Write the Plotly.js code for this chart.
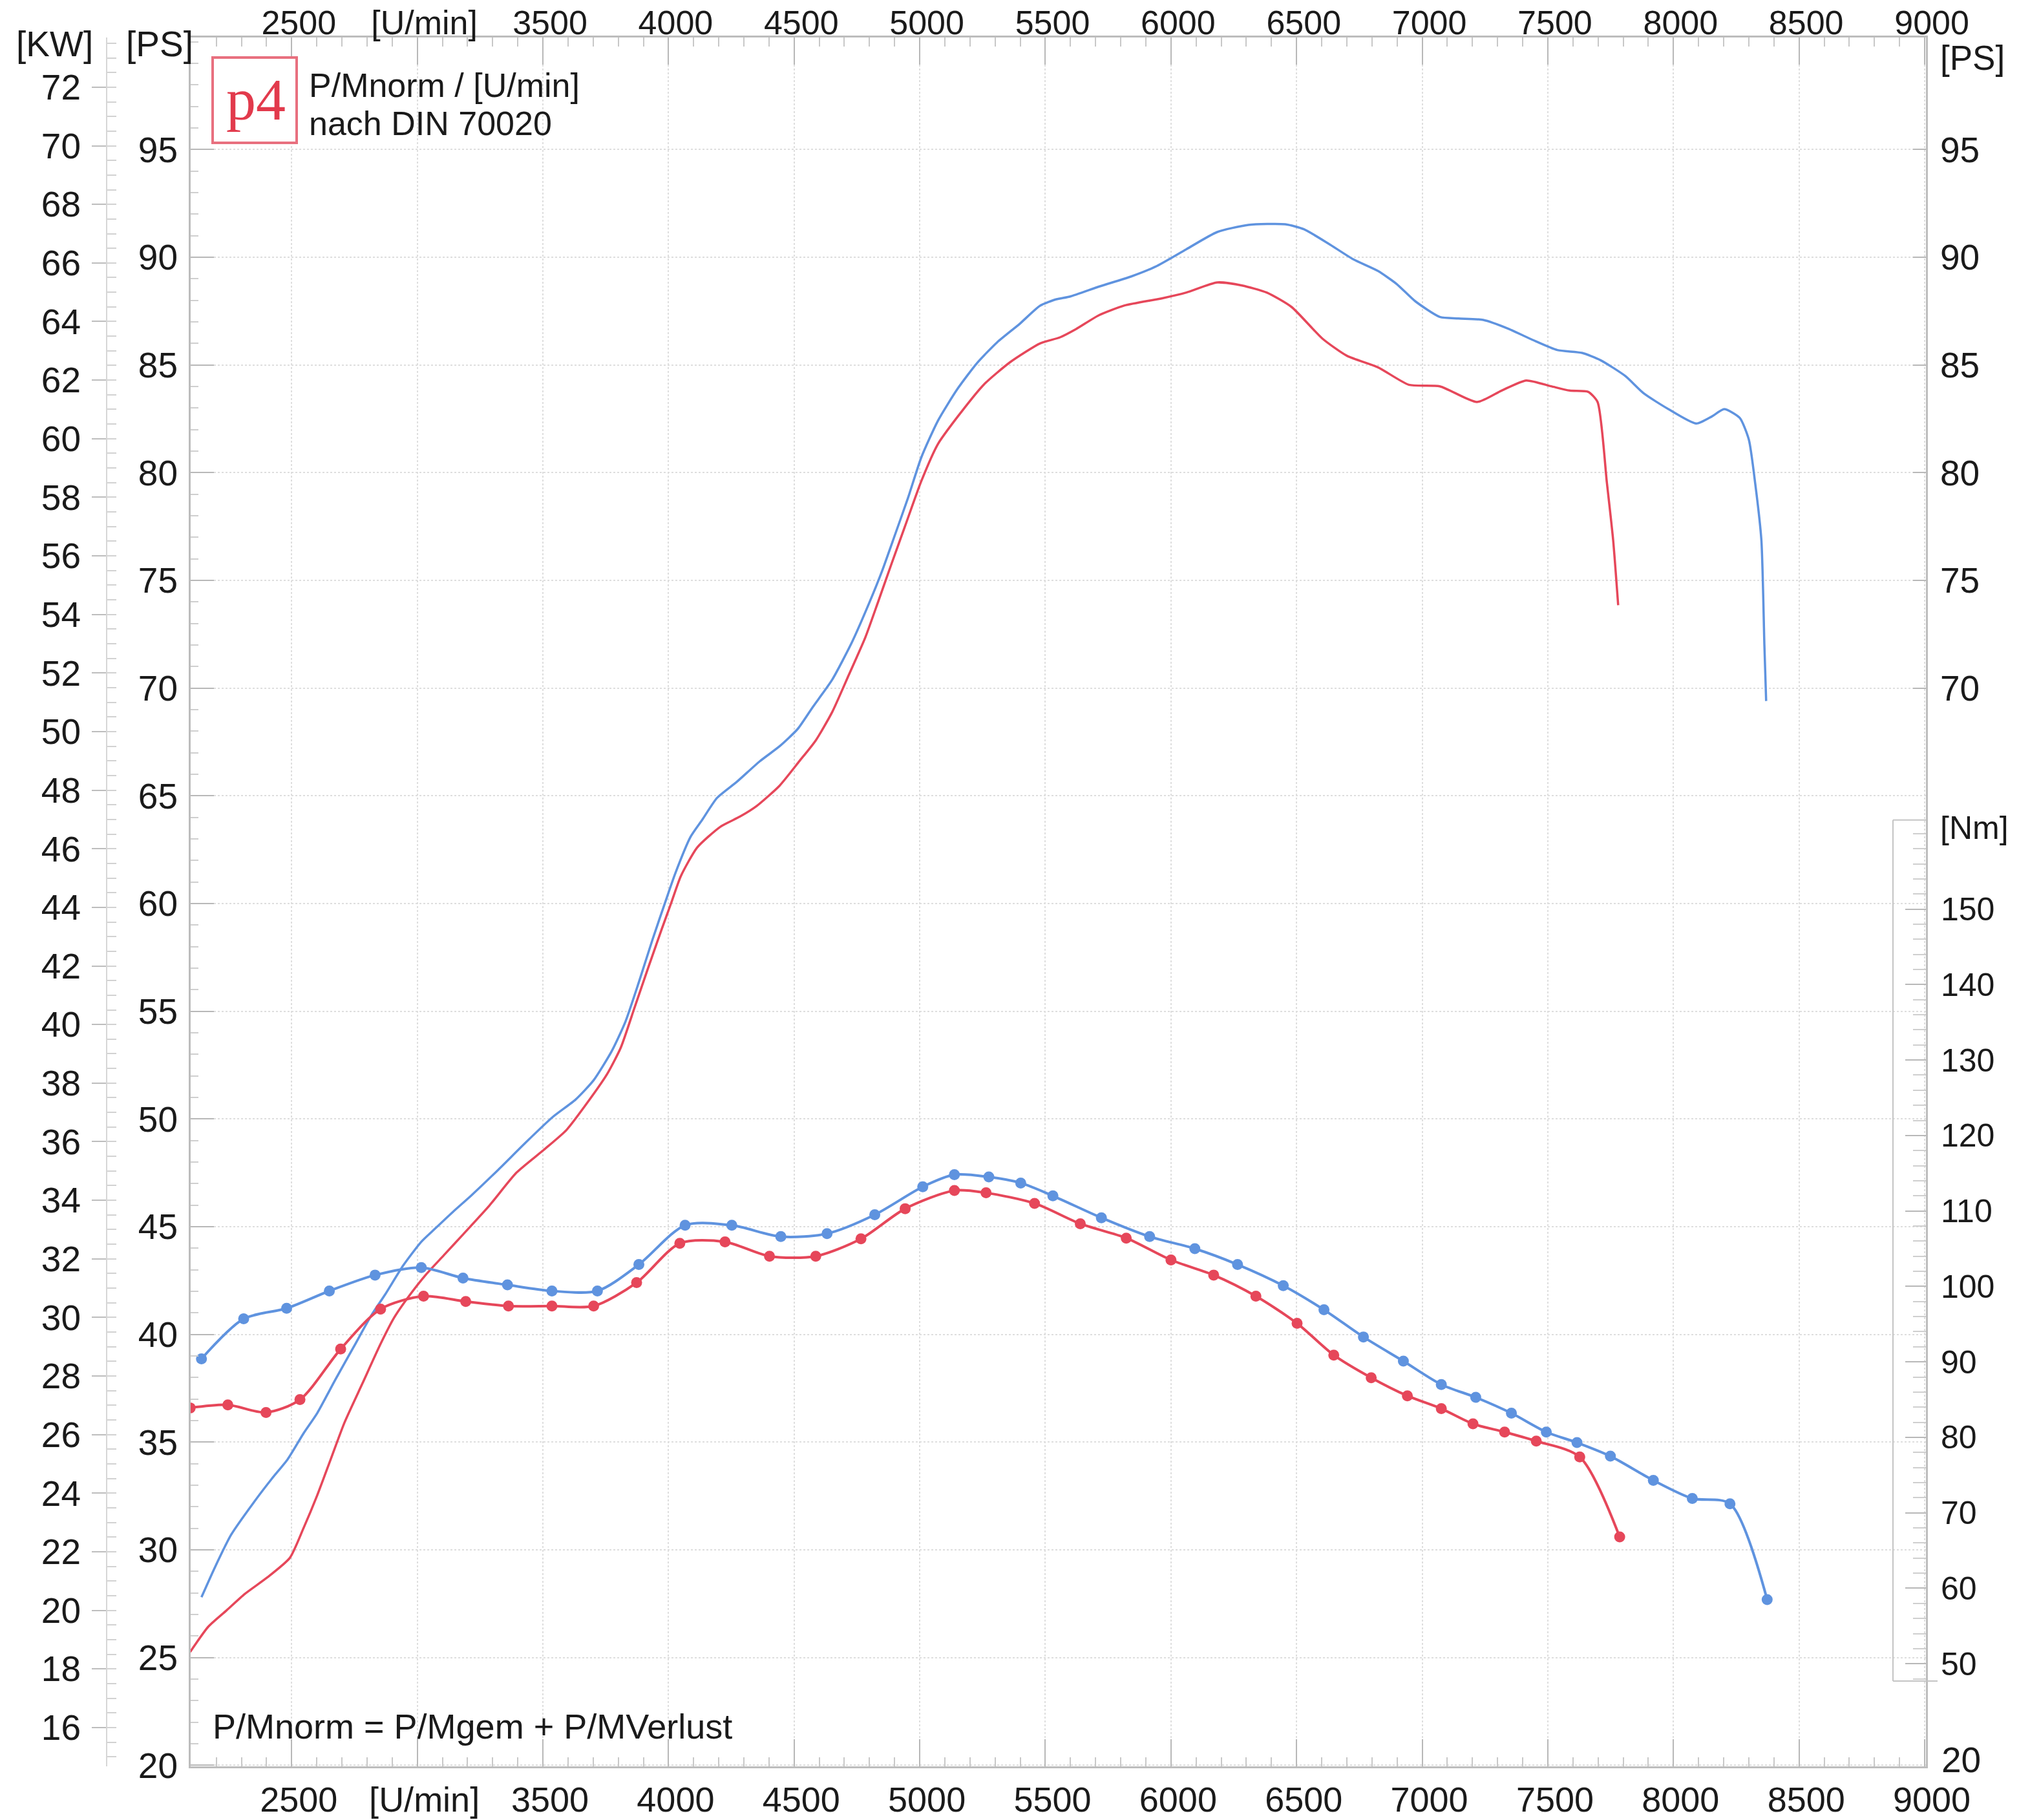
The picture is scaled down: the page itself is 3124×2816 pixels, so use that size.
<!DOCTYPE html>
<html>
<head>
<meta charset="utf-8">
<script src="https://cdn.plot.ly/plotly-3.0.1.min.js"></script>
<style>html,body{margin:0;padding:0;background:#fff;}</style>
</head>
<body>
<div id="chart" style="width:3124px;height:2816px;"></div>
<script>
// ---------- axis ticks ----------
const rpmTicks = [2500,3000,3500,4000,4500,5000,5500,6000,6500,7000,7500,8000,8500,9000];
const rpmTickText = ['2500','[U/min]','3500','4000','4500','5000','5500','6000','6500','7000','7500','8000','8500','9000'];
const psTicks = [20,25,30,35,40,45,50,55,60,65,70,75,80,85,90,95];
const psRightTicks = [70,75,80,85,90,95];
const psRightBottomLabel = '20';
const kwTicks = [16,18,20,22,24,26,28,30,32,34,36,38,40,42,44,46,48,50,52,54,56,58,60,62,64,66,68,70,72];
const nmTicks = [50,60,70,80,90,100,110,120,130,140,150];

// ---------- power (PS) ----------
const powerBlueRpm = [2141,2195,2259,2349,2421,2484,2547,2602,2674,2746,2818,2872,2944,3016,3070,3143,3215,3323,3431,3540,3630,3702,3774,3828,3882,3937,3991,4027,4088,4135,4193,4272,4363,4442,4514,4573,4652,4731,4797,4849,4901,4954,5006,5072,5151,5229,5308,5397,5479,5544,5597,5717,5840,5938,6061,6184,6308,6455,6529,6627,6726,6824,6898,6972,7070,7144,7243,7341,7440,7538,7636,7710,7808,7882,7980,8091,8153,8202,8264,8300,8325,8350,8362,8369];
const powerBluePS = [27.8,29.2,30.7,32.2,33.3,34.2,35.4,36.35,37.9,39.4,40.9,41.85,43.2,44.3,44.9,45.7,46.45,47.65,48.9,50.1,50.9,51.8,53.15,54.5,56.35,58.35,60.2,61.4,63.1,63.9,64.9,65.65,66.6,67.3,68.1,69.1,70.4,72.15,73.9,75.4,77.1,78.85,80.7,82.4,83.9,85.1,86.05,86.9,87.75,88.05,88.17,88.65,89.1,89.56,90.37,91.17,91.5,91.53,91.3,90.63,89.9,89.36,88.76,87.96,87.23,87.16,87.09,86.69,86.16,85.69,85.56,85.22,84.49,83.68,82.95,82.28,82.61,82.95,82.54,81.54,79.54,76.87,72.0,69.4];

const powerRedRpm = [2096,2168,2241,2313,2403,2493,2547,2602,2656,2710,2782,2854,2908,2962,3034,3107,3179,3287,3395,3504,3594,3684,3756,3810,3864,3918,3973,4009,4049,4114,4206,4285,4350,4442,4521,4586,4652,4718,4783,4836,4888,4941,5006,5072,5151,5256,5361,5479,5558,5623,5712,5815,5963,6061,6184,6283,6381,6480,6603,6701,6824,6947,7070,7218,7316,7414,7513,7587,7661,7698,7735,7760,7780];
const powerRedPS = [25.26,26.43,27.19,27.95,28.72,29.63,31.0,32.54,34.22,35.9,37.73,39.56,40.78,41.7,42.77,43.69,44.6,45.98,47.51,48.57,49.49,50.87,52.09,53.31,55.14,56.98,58.81,59.97,61.27,62.6,63.56,64.04,64.52,65.47,66.61,67.57,68.9,70.62,72.34,74.06,75.78,77.5,79.6,81.32,82.6,84.1,85.14,86.0,86.28,86.67,87.3,87.76,88.09,88.36,88.83,88.69,88.36,87.69,86.22,85.42,84.89,84.08,84.01,83.28,83.81,84.28,84.01,83.81,83.75,83.28,79.54,76.87,73.85];

// ---------- torque (Nm) ----------
const torqueBlueRpm = [2141,2309,2480,2650,2832,3016,3182,3359,3536,3717,3882,4066,4252,4447,4631,4821,5012,5138,5275,5402,5530,5723,5915,6095,6265,6447,6609,6766,6925,7076,7213,7355,7494,7616,7749,7920,8075,8225,8373];
const torqueBlueNm = [90.4,95.7,97.1,99.4,101.5,102.5,101.1,100.2,99.4,99.4,102.9,108.1,108.1,106.6,107.0,109.5,113.2,114.8,114.5,113.7,112.0,109.1,106.6,105.0,102.9,100.1,96.9,93.3,90.1,87.0,85.3,83.2,80.7,79.3,77.5,74.3,71.9,71.2,58.5];

const torqueRedRpm = [2096,2246,2398,2533,2695,2854,3025,3193,3363,3536,3702,3873,4045,4225,4402,4586,4766,4942,5138,5264,5457,5639,5822,6000,6170,6338,6502,6648,6797,6941,7076,7202,7328,7454,7627,7786];
const torqueRedNm = [83.9,84.3,83.3,85.0,91.7,97.0,98.7,98.0,97.4,97.4,97.4,100.5,105.7,105.9,104.0,104.0,106.3,110.3,112.7,112.4,111.0,108.3,106.4,103.5,101.5,98.7,95.1,90.9,87.9,85.5,83.8,81.8,80.7,79.5,77.4,66.8];

// ---------- styling ----------
const BLUE = '#5f93df';
const RED = '#e6475a';
const FONT = 'Liberation Sans, Arial, Helvetica, sans-serif';
const TXT = '#1a1a1a';
const PS_RANGE = [19.95, 100.2];
const KW_PER_PS = 0.73549875;
const NM_RANGE = [36.4, 265.5];

// paper geometry (margin l=0, r=144, t=58, b=83)
const PW = 2980, PTOP = 58, PBOT = 2733, PH = PBOT - PTOP;
const px = x => x / PW;
const py = y => (PBOT - y) / PH;

const nmMinor = [];
for (let v = 48; v <= 160; v += 2) nmMinor.push(v);

const traces = [
  {x: powerBlueRpm, y: powerBluePS, type: 'scatter', mode: 'lines', name: 'P blue',
   line: {color: BLUE, width: 3.5, shape: 'spline', smoothing: 0.6}, xaxis: 'x', yaxis: 'y'},
  {x: powerRedRpm, y: powerRedPS, type: 'scatter', mode: 'lines', name: 'P red',
   line: {color: RED, width: 3.5, shape: 'spline', smoothing: 0.6}, xaxis: 'x', yaxis: 'y'},
  // same power curves in kW on the kW scale (transparent, they carry the kW / top / right axes)
  {x: powerBlueRpm, y: powerBluePS.map(v => v * KW_PER_PS), type: 'scatter', mode: 'lines', name: 'P blue kW',
   line: {color: 'rgba(0,0,0,0)', width: 1}, xaxis: 'x', yaxis: 'y2', hoverinfo: 'skip'},
  {x: powerRedRpm, y: powerRedPS, type: 'scatter', mode: 'lines', name: 'P red right',
   line: {color: 'rgba(0,0,0,0)', width: 1}, xaxis: 'x2', yaxis: 'y4', hoverinfo: 'skip'},
  {x: torqueBlueRpm, y: torqueBlueNm, type: 'scatter', mode: 'lines+markers', name: 'M blue',
   line: {color: BLUE, width: 4, shape: 'spline', smoothing: 0.8},
   marker: {color: BLUE, size: 17}, xaxis: 'x', yaxis: 'y3'},
  {x: torqueRedRpm, y: torqueRedNm, type: 'scatter', mode: 'lines+markers', name: 'M red',
   line: {color: RED, width: 4, shape: 'spline', smoothing: 0.8},
   marker: {color: RED, size: 17}, xaxis: 'x', yaxis: 'y3'}
];

const tickFont = {family: FONT, size: 55, color: TXT};

const xCommon = {
  range: [2098, 9005], tickmode: 'array', tickvals: rpmTicks, ticktext: rpmTickText,
  ticks: 'inside', ticklen: 42, tickwidth: 2, tickcolor: '#b8b8b8',
  minor: {dtick: 100, tick0: 2000, ticks: 'inside', ticklen: 14, tickcolor: '#c8c8c8', tickwidth: 2, showgrid: false},
  showline: true, linecolor: '#bdbdbd', linewidth: 3,
  ticklabelshift: 11, zeroline: false
};

const layout = {
  width: 3124, height: 2816,
  margin: {l: 0, r: 144, t: 58, b: 83, pad: 0},
  paper_bgcolor: '#ffffff', plot_bgcolor: 'rgba(0,0,0,0)',
  showlegend: false,
  font: {family: FONT, color: TXT},
  xaxis: Object.assign({}, xCommon, {
    domain: [295 / PW, 1], anchor: 'y', side: 'bottom',
    showgrid: true, gridcolor: '#dedede', griddash: 'dot', gridwidth: 2,
    tickfont: {family: FONT, size: 54, color: TXT}, ticklabelstandoff: 2
  }),
  xaxis2: Object.assign({}, xCommon, {
    overlaying: 'x', matches: 'x', anchor: 'y', side: 'top', showgrid: false,
    tickfont: {family: FONT, size: 52, color: TXT}, ticklabelstandoff: -19
  }),
  yaxis: {
    domain: [0, 1], anchor: 'x', side: 'left', range: PS_RANGE,
    tickmode: 'array', tickvals: psTicks,
    ticks: 'inside', ticklen: 36, tickwidth: 2, tickcolor: '#b8b8b8',
    minor: {dtick: 1, tick0: 20, ticks: 'inside', ticklen: 12, tickcolor: '#cfcfcf', tickwidth: 2, showgrid: false},
    showline: true, linecolor: '#bdbdbd', linewidth: 3,
    showgrid: true, gridcolor: '#dedede', griddash: 'dot', gridwidth: 2,
    tickfont: tickFont, ticklabelstandoff: 6, zeroline: false
  },
  yaxis2: {
    overlaying: 'y', anchor: 'free', position: 165 / PW, side: 'left',
    range: [PS_RANGE[0] * KW_PER_PS, PS_RANGE[1] * KW_PER_PS],
    tickmode: 'array', tickvals: kwTicks,
    ticks: 'outside', ticklen: 22, tickwidth: 2, tickcolor: '#bdbdbd',
    minor: {dtick: 0.5, tick0: 14, ticks: 'inside', ticklen: 14, tickcolor: '#d2d2d2', tickwidth: 2, showgrid: false},
    showline: true, linecolor: '#d6d6d6', linewidth: 2,
    showgrid: false, tickfont: tickFont, ticklabelstandoff: 6, zeroline: false
  },
  yaxis3: {
    overlaying: 'y', anchor: 'x', side: 'right', range: NM_RANGE,
    tickmode: 'array', tickvals: nmTicks,
    ticks: 'inside', ticklen: 32, tickwidth: 2, tickcolor: '#b8b8b8',
    minor: {tickmode: 'array', tickvals: nmMinor, ticks: 'inside', ticklen: 20, tickcolor: '#cfcfcf', tickwidth: 2, showgrid: false},
    showline: false, showgrid: false,
    tickfont: {family: FONT, size: 50, color: TXT}, ticklabelstandoff: 22, zeroline: false
  },
  yaxis4: {
    overlaying: 'y', anchor: 'x2', side: 'right', range: PS_RANGE,
    tickmode: 'array', tickvals: psRightTicks,
    ticks: 'inside', ticklen: 20, tickwidth: 2, tickcolor: '#b8b8b8',
    showline: true, linecolor: '#bdbdbd', linewidth: 3, showgrid: false,
    tickfont: tickFont, ticklabelstandoff: 8, zeroline: false
  },
  shapes: [
    // torque scale box
    {type: 'line', xref: 'paper', yref: 'y3', x0: px(2929), x1: px(2929), y0: 47.7, y1: 161.8, line: {color: '#c4c4c4', width: 2}},
    {type: 'line', xref: 'paper', yref: 'y3', x0: px(2929), x1: px(2980), y0: 161.8, y1: 161.8, line: {color: '#c4c4c4', width: 2}},
    {type: 'line', xref: 'paper', yref: 'y3', x0: px(2929), x1: px(2998), y0: 47.7, y1: 47.7, line: {color: '#c4c4c4', width: 2}},
    // logo frame
    {type: 'rect', xref: 'paper', yref: 'paper', x0: px(329), x1: px(459), y0: py(221), y1: py(89),
     line: {color: '#e8707f', width: 4}, fillcolor: 'rgba(255,255,255,1)'}
  ],
  annotations: [
    {text: '[KW]', xref: 'paper', yref: 'paper', x: px(84), y: py(68), xanchor: 'center', yanchor: 'middle', showarrow: false, font: {family: FONT, size: 55, color: TXT}},
    {text: '[PS]', xref: 'paper', yref: 'paper', x: px(247), y: py(68), xanchor: 'center', yanchor: 'middle', showarrow: false, font: {family: FONT, size: 55, color: TXT}},
    {text: '[PS]', xref: 'paper', yref: 'paper', x: px(3000), y: py(89), xanchor: 'left', yanchor: 'middle', showarrow: false, font: {family: FONT, size: 53, color: TXT}},
    {text: psRightBottomLabel, xref: 'paper', yref: 'paper', x: px(3002), y: py(2723), xanchor: 'left', yanchor: 'middle', showarrow: false, font: {family: FONT, size: 55, color: TXT}},
    {text: '[Nm]', xref: 'paper', yref: 'paper', x: px(3000), y: py(1281), xanchor: 'left', yanchor: 'middle', showarrow: false, font: {family: FONT, size: 50, color: TXT}},
    {text: 'P/Mnorm / [U/min]', xref: 'paper', yref: 'paper', x: px(476), y: py(132), xanchor: 'left', yanchor: 'middle', showarrow: false, font: {family: FONT, size: 52, color: TXT}},
    {text: 'nach DIN 70020', xref: 'paper', yref: 'paper', x: px(476), y: py(191), xanchor: 'left', yanchor: 'middle', showarrow: false, font: {family: FONT, size: 52, color: TXT}},
    {text: 'P/Mnorm = P/Mgem + P/MVerlust', xref: 'paper', yref: 'paper', x: px(327), y: py(2671), xanchor: 'left', yanchor: 'middle', showarrow: false, font: {family: FONT, size: 54, color: TXT}},
    {text: 'p4', xref: 'paper', yref: 'paper', x: px(396), y: py(154), xanchor: 'center', yanchor: 'middle', showarrow: false, font: {family: 'Liberation Serif, DejaVu Serif, serif', size: 92, color: '#e23a4c'}}
  ]
};

Plotly.newPlot('chart', traces, layout, {staticPlot: true, displayModeBar: false});
</script>
</body>
</html>
